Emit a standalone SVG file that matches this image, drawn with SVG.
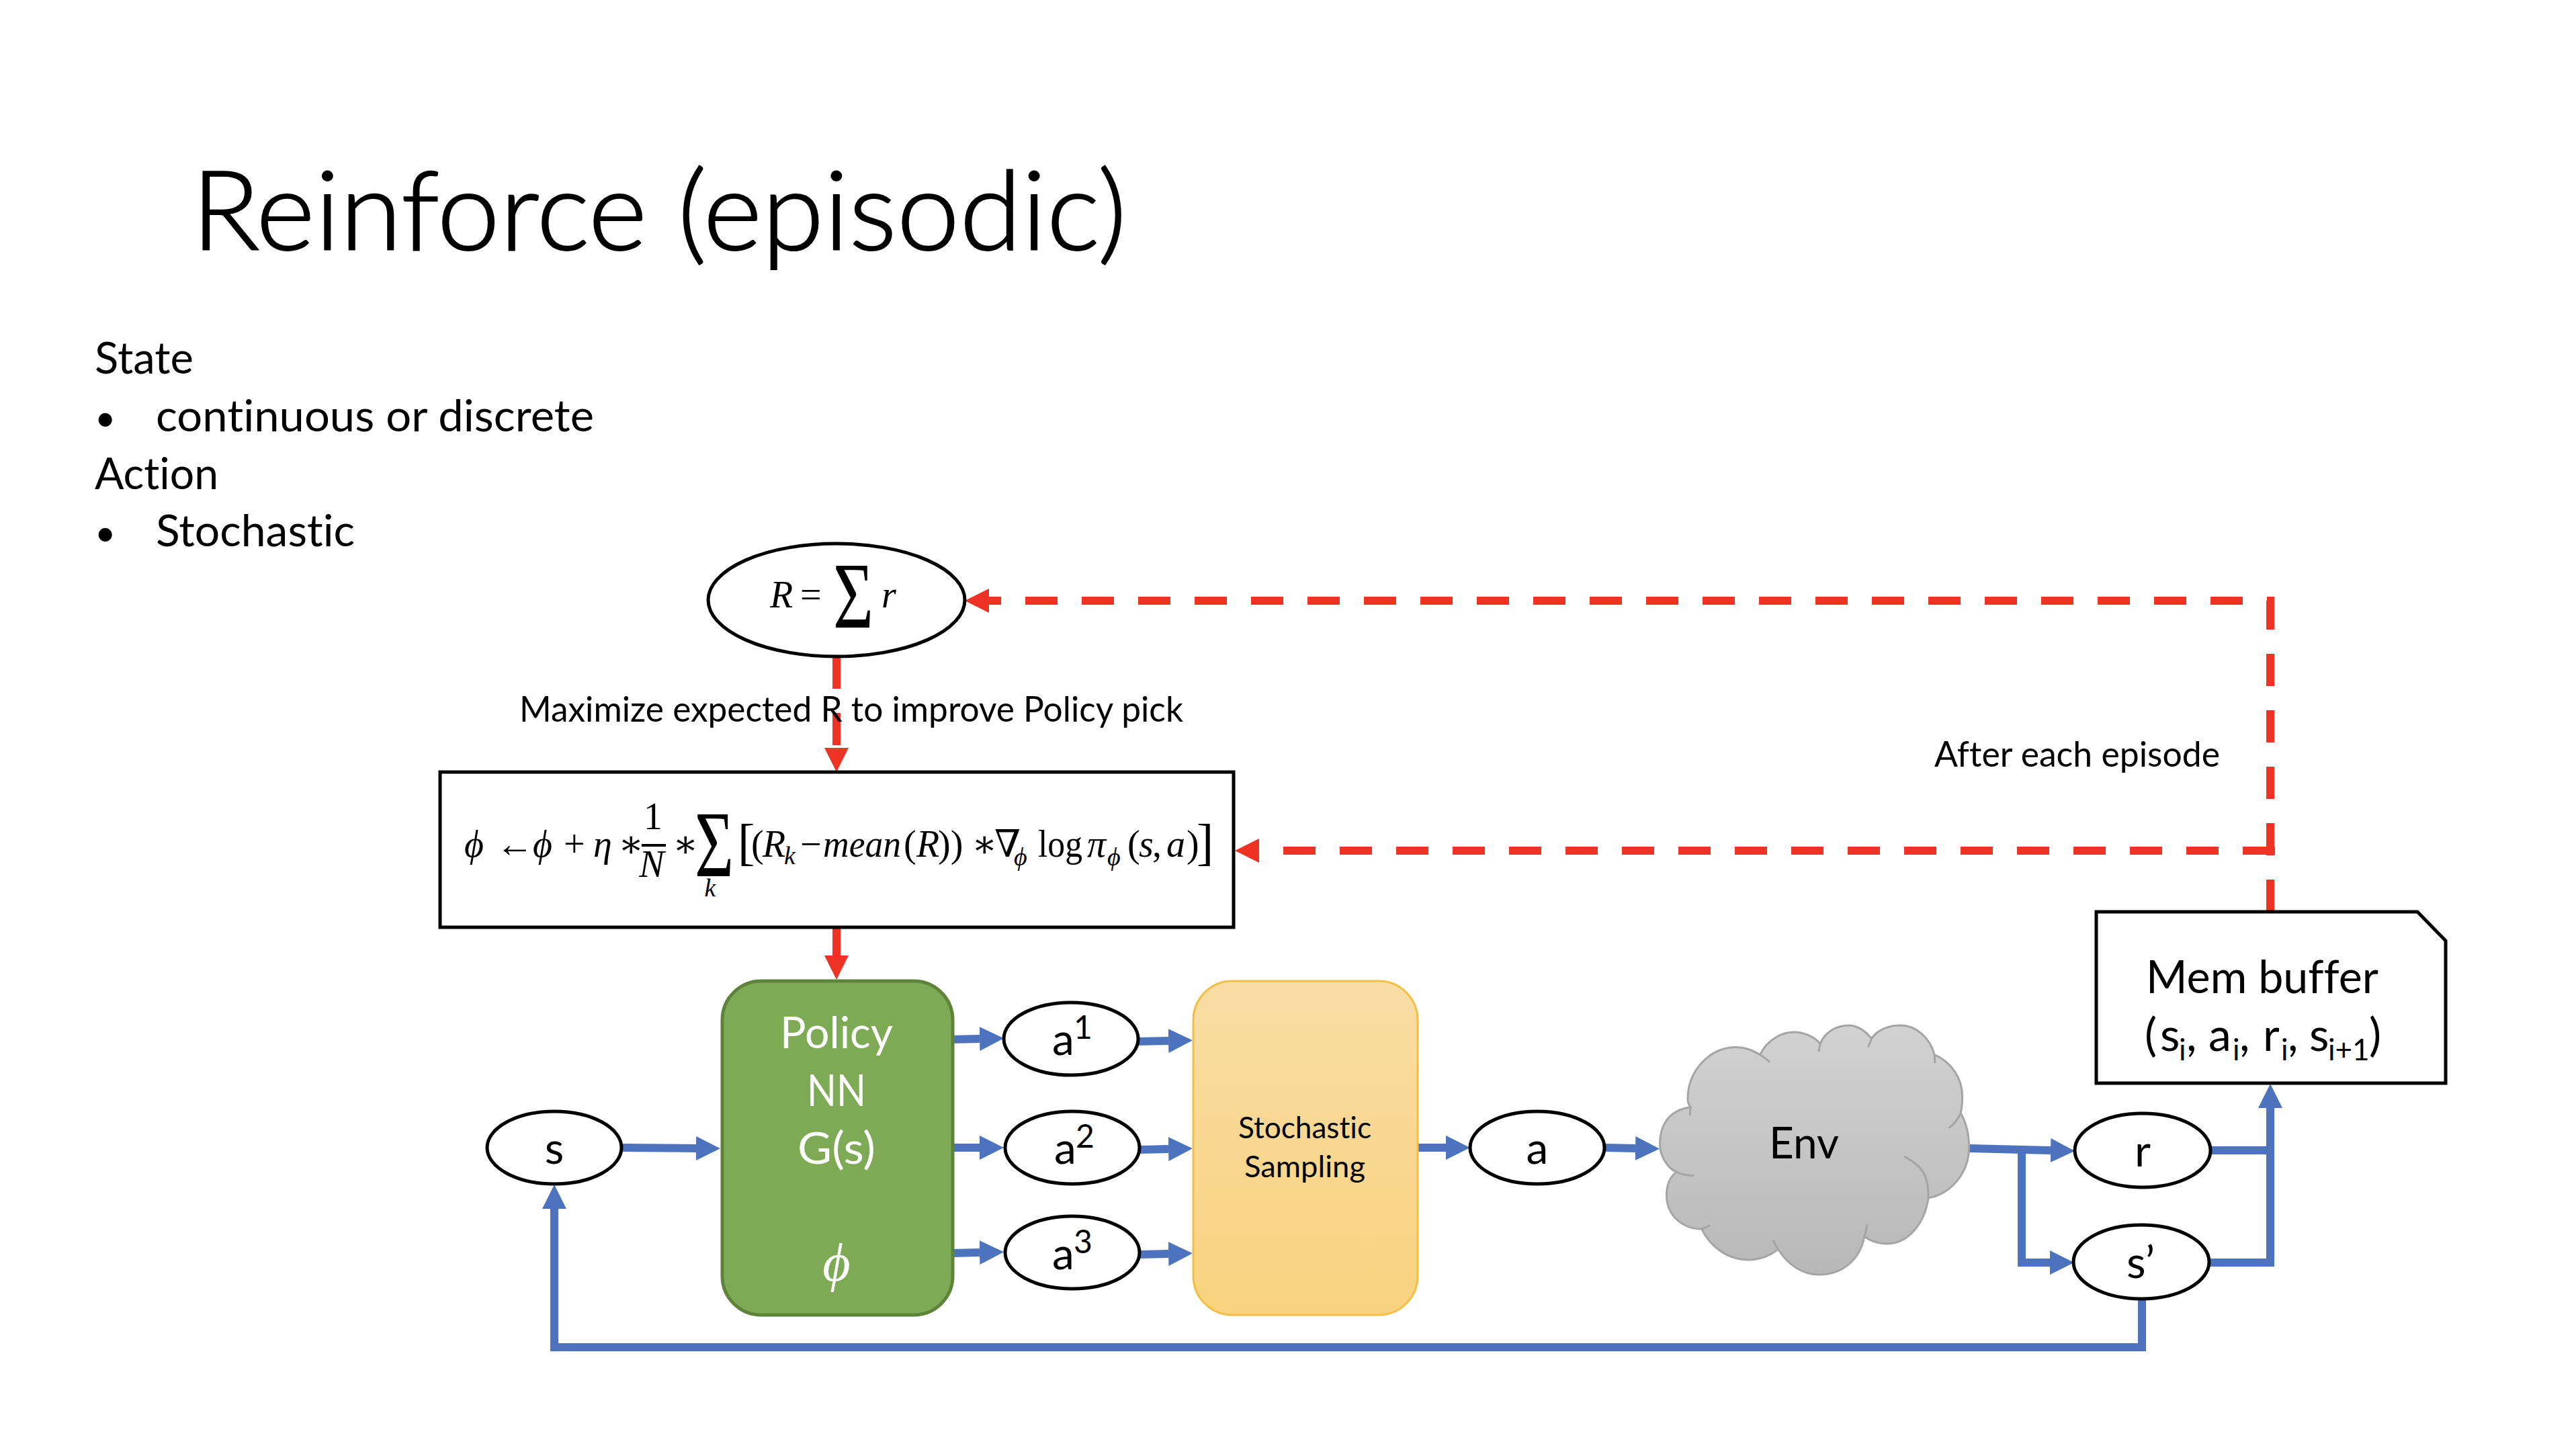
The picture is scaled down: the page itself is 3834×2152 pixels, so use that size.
<svg xmlns="http://www.w3.org/2000/svg" width="3834" height="2152" viewBox="0 0 3834 2152">
<style>
text{font-family:"Lato","Liberation Sans",sans-serif;fill:#000;font-variant-ligatures:none}
.t66{font-size:66px}
.c{text-anchor:middle}
text.w{fill:#fff}
.m{font-family:"Liberation Serif","DejaVu Serif",serif;font-style:italic;font-size:56px}
.n{font-family:"Liberation Serif","DejaVu Serif",serif;font-style:normal;font-size:56px}
.ms{font-family:"Liberation Serif","DejaVu Serif",serif;font-style:italic;font-size:38px}
.sig{font-family:"Liberation Serif","DejaVu Serif",serif;font-style:normal;font-size:140px}
.el{fill:#fff;stroke:#000;stroke-width:5}
.blue{fill:none;stroke:#4D73BF;stroke-width:12;marker-end:url(#ab)}
.bl{fill:none;stroke:#4D73BF;stroke-width:12}
.red{fill:none;stroke:#EE3224;stroke-width:12;stroke-dasharray:48 36;marker-end:url(#ar)}
.reds{fill:none;stroke:#EE3224;stroke-width:12;marker-end:url(#ar)}
</style>
<defs>
<marker id="ab" markerUnits="userSpaceOnUse" markerWidth="36" markerHeight="38" refX="0" refY="19" orient="auto" viewBox="0 0 36 38"><path d="M0 1L36 19L0 37Z" fill="#4D73BF"/></marker>
<marker id="ar" markerUnits="userSpaceOnUse" markerWidth="36" markerHeight="38" refX="0" refY="19" orient="auto" viewBox="0 0 36 38"><path d="M0 1L36 19L0 37Z" fill="#EE3224"/></marker>
<linearGradient id="gs" x1="0" y1="0" x2="0" y2="1"><stop offset="0" stop-color="#F9DDA4"/><stop offset="1" stop-color="#F8D27E"/></linearGradient>
<linearGradient id="gc" x1="0" y1="0" x2="0" y2="1"><stop offset="0" stop-color="#D2D2D2"/><stop offset="1" stop-color="#B8B8B8"/></linearGradient>
</defs>
<rect width="3834" height="2152" fill="#fff"/>

<g id="title"><text x="285" y="372" font-size="164" font-weight="300" stroke="#000" stroke-width="2" textLength="1392" lengthAdjust="spacingAndGlyphs">Reinforce (episodic)</text></g>
<g id="body" class="t66">
<text x="141" y="556" textLength="147" lengthAdjust="spacingAndGlyphs">State</text>
<text x="141" y="641" style="font-size:54px">•</text>
<text x="232" y="642" textLength="652" lengthAdjust="spacingAndGlyphs">continuous or discrete</text>
<text x="141" y="728" textLength="184" lengthAdjust="spacingAndGlyphs">Action</text>
<text x="141" y="812" style="font-size:54px">•</text>
<text x="232" y="813" textLength="296" lengthAdjust="spacingAndGlyphs">Stochastic</text>
</g>

<g id="connectors">
<path class="red" d="M3379 1357V894H1472"/>
<path class="red" d="M3386 1266H1874"/>
<path class="red" d="M1245 977V1113"/>
<path class="reds" d="M1245 1380V1422"/>
<path class="blue" d="M925 1708L1036 1709"/>
<path class="blue" d="M1413 1547L1458 1546"/>
<path class="blue" d="M1693 1550L1739 1549"/>
<path class="blue" d="M1418 1708L1458 1708"/>
<path class="blue" d="M1697 1711L1739 1710"/>
<path class="blue" d="M1416 1865L1458 1864"/>
<path class="blue" d="M1695 1867L1739 1866"/>
<path class="blue" d="M2108 1708H2152"/>
<path class="blue" d="M2388 1708L2434 1709"/>
<path class="blue" d="M2931 1709L3052 1712"/>
<path class="blue" d="M3009 1709V1879H3051"/>
<path class="bl" d="M3290 1712H3379"/>
<path class="blue" d="M3288 1879H3379V1649"/>
<path class="blue" d="M3188 1932V2005H825V1799"/>
</g>

<g id="node-reward">
<ellipse class="el" cx="1245" cy="893" rx="191" ry="84"/>
<text class="m" x="1146" y="904">R</text>
<text class="n" x="1191" y="904">=</text>
<text class="sig" x="1240" y="934" textLength="60" lengthAdjust="spacingAndGlyphs">Σ</text>
<text class="m" x="1312" y="904">r</text>
</g>

<g id="label-maximize"><text x="773" y="1074" font-size="52" textLength="988" lengthAdjust="spacingAndGlyphs">Maximize expected R to improve Policy pick</text></g>
<g id="label-after"><text x="2879" y="1141" font-size="52" textLength="425" lengthAdjust="spacingAndGlyphs">After each episode</text></g>

<g id="node-update">
<rect x="655" y="1149" width="1181" height="231" fill="#fff" stroke="#000" stroke-width="5"/>
<text class="m" y="1275"><tspan x="691">ϕ</tspan><tspan class="n" x="738">←</tspan><tspan x="793">ϕ</tspan><tspan class="n" x="839">+</tspan><tspan x="883">η</tspan><tspan class="n" x="920">∗</tspan></text>
<text class="n c" x="972" y="1234">1</text>
<rect x="955" y="1256" width="36" height="4"/>
<text class="m c" x="970" y="1305">N</text>
<text class="n" x="1001" y="1275">∗</text>
<text class="sig" x="1034" y="1304" textLength="58" lengthAdjust="spacingAndGlyphs">Σ</text>
<text class="ms c" x="1057" y="1334">k</text>
<text class="n" x="1098" y="1279" style="font-size:76px">[</text>
<text class="m" y="1275"><tspan class="n" x="1118">(</tspan><tspan x="1135">R</tspan><tspan class="ms" x="1167" y="1286">k</tspan><tspan class="n" x="1191" y="1275">−</tspan></text>
<text class="m" x="1225" y="1275" textLength="116" lengthAdjust="spacingAndGlyphs">mean</text>
<text class="m" y="1275"><tspan class="n" x="1345">(</tspan><tspan x="1364">R</tspan><tspan class="n" x="1396">))</tspan><tspan class="n" x="1446">∗</tspan><tspan class="n" x="1480">∇</tspan><tspan class="ms" x="1509" y="1288">ϕ</tspan></text>
<text class="n" x="1545" y="1275" textLength="66" lengthAdjust="spacingAndGlyphs">log</text>
<text class="m" y="1275"><tspan x="1618">π</tspan><tspan class="ms" x="1648" y="1288">ϕ</tspan><tspan class="n" x="1678" y="1275">(</tspan><tspan x="1695">s</tspan><tspan class="n" x="1715">,</tspan><tspan x="1736">a</tspan><tspan class="n" x="1766">)</tspan></text>
<text class="n" x="1781" y="1279" style="font-size:76px">]</text>
</g>

<g id="node-policy">
<rect x="1075" y="1460" width="343" height="497" rx="58" ry="58" fill="#7FAA55" stroke="#5E8439" stroke-width="5"/>
<text class="t66 c w" x="1245" y="1560" textLength="168" lengthAdjust="spacingAndGlyphs">Policy</text>
<text class="t66 c w" x="1245" y="1646" textLength="88" lengthAdjust="spacingAndGlyphs">NN</text>
<text class="t66 c w" x="1245" y="1732" textLength="116" lengthAdjust="spacingAndGlyphs">G(s)</text>
<text class="m c w" x="1245" y="1906" style="font-size:80px">ϕ</text>
</g>

<g id="node-s"><ellipse class="el" cx="825" cy="1708" rx="100" ry="54"/><text class="t66 c" x="825" y="1732">s</text></g>
<g id="node-a1"><ellipse class="el" cx="1594" cy="1546" rx="100" ry="54"/><text class="t66" x="1566" y="1570">a<tspan font-size="48" dy="-24" x="1598">1</tspan></text></g>
<g id="node-a2"><ellipse class="el" cx="1596" cy="1708" rx="100" ry="54"/><text class="t66" x="1569" y="1732">a<tspan font-size="48" dy="-24" x="1601">2</tspan></text></g>
<g id="node-a3"><ellipse class="el" cx="1596" cy="1864" rx="100" ry="54"/><text class="t66" x="1566" y="1889">a<tspan font-size="48" dy="-24" x="1598">3</tspan></text></g>

<g id="node-sampling">
<rect x="1776" y="1460" width="334" height="497" rx="58" ry="58" fill="url(#gs)" stroke="#F4BE45" stroke-width="3"/>
<text class="c" x="1942" y="1694" font-size="45" textLength="198" lengthAdjust="spacingAndGlyphs">Stochastic</text>
<text class="c" x="1942" y="1752" font-size="45" textLength="180" lengthAdjust="spacingAndGlyphs">Sampling</text>
</g>

<g id="node-a"><ellipse class="el" cx="2288" cy="1708" rx="100" ry="54"/><text class="t66 c" x="2288" y="1732">a</text></g>

<g id="node-env">
<g transform="translate(2400,1340) scale(0.829,0.4592)">
<path vector-effect="non-scaling-stroke" fill="url(#gc)" stroke="#A5A5A5" stroke-width="3" d="M140 670C100 680 85 730 85 790C85 830 100 870 115 880C100 900 97 930 97 955C97 1020 125 1065 160 1065C175 1120 205 1165 245 1165C265 1165 285 1150 297 1130C315 1180 340 1213 370 1213C415 1213 445 1160 452 1090C465 1105 480 1113 492 1113C530 1113 560 1050 567 965C610 950 640 880 640 800C640 760 635 720 625 690C628 670 628 650 628 635C628 580 610 525 578 500C570 445 545 405 517 405C495 405 475 420 465 448C455 425 440 405 425 405C400 405 380 430 373 465C365 445 345 427 325 427C300 427 275 460 265 500C250 485 238 476 222 476C175 476 135 550 135 645C135 655 136 660 140 670Z"/>
<path vector-effect="non-scaling-stroke" fill="none" stroke="#A5A5A5" stroke-width="3" d="M115 880C125 890 135 892 146 892M160 1065C165 1062 170 1058 175 1053M297 1130C293 1120 290 1110 289 1100M452 1090C455 1075 456 1060 457 1050M567 965C568 890 555 860 524 830M625 690C620 710 613 725 604 738M578 500L579 527M465 448L459 476M373 465L370 490M265 500C272 510 278 515 282 524M140 670L139 697"/>
</g>
<text class="t66 c" x="2685" y="1724" textLength="104" lengthAdjust="spacingAndGlyphs">Env</text>
</g>

<g id="node-r"><ellipse class="el" cx="3189" cy="1712" rx="101" ry="55"/><text class="t66 c" x="3189" y="1736">r</text></g>
<g id="node-sprime"><ellipse class="el" cx="3187" cy="1878" rx="101" ry="55"/><text class="t66 c" x="3186" y="1902">s’</text></g>

<g id="node-mem">
<path d="M3120 1357H3598L3640 1400V1612H3120Z" fill="#fff" stroke="#000" stroke-width="5"/>
<text x="3194" y="1478" font-size="68" textLength="346" lengthAdjust="spacingAndGlyphs">Mem buffer</text>
<text font-size="68" y="1564"><tspan x="3192">(</tspan><tspan x="3215">s</tspan><tspan x="3243" y="1578" font-size="44">i</tspan><tspan x="3254" y="1564">,</tspan><tspan x="3287">a</tspan><tspan x="3323" y="1578" font-size="44">i</tspan><tspan x="3333" y="1564">,</tspan><tspan x="3368">r</tspan><tspan x="3395" y="1578" font-size="44">i</tspan><tspan x="3405" y="1564">,</tspan><tspan x="3437">s</tspan><tspan x="3465" y="1578" font-size="44">i+1</tspan><tspan x="3526" y="1564">)</tspan></text>
</g>
</svg>
